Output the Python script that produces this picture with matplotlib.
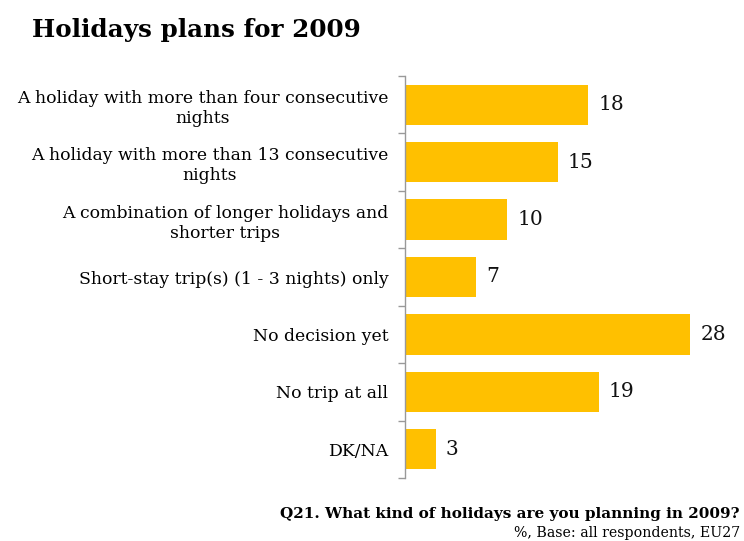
import matplotlib
matplotlib.use("Agg")
import matplotlib.pyplot as plt
import numpy as np

categories = [
    "A holiday with more than four consecutive\nnights",
    "A holiday with more than 13 consecutive\nnights",
    "A combination of longer holidays and\nshorter trips",
    "Short-stay trip(s) (1 - 3 nights) only",
    "No decision yet",
    "No trip at all",
    "DK/NA",
]
values = [18, 15, 10, 7, 28, 19, 3]

title = "Holidays plans for 2009"
question = "Q21. What kind of holidays are you planning in 2009?"
base = "%, Base: all respondents, EU27"

plt.rcParams['font.family'] = ['DejaVu Serif']
W, H = 744, 541
fig = plt.figure(figsize=(W/100, H/100), dpi=100)
ax = fig.add_axes([405/W, 63/H, 326/W, 402/H])

y = np.arange(len(categories))
ax.barh(y, values, height=0.7, color="#FFC000")
ax.set_ylim(len(categories) - 0.5, -0.5)
ax.set_xlim(0, 32)

for yi, v in zip(y, values):
    ax.text(v + 1.0, yi, str(v), va="center", ha="left", fontsize=14.5, color="#111111")

ax.set_yticks(y)
ax.set_yticklabels(categories, fontsize=12.4, ha="right", multialignment="center",
                   linespacing=1.25)
ax.tick_params(axis="y", which="major", length=0, pad=12)
ax.set_yticks(np.arange(-0.5, len(categories)), minor=True)
ax.tick_params(axis="y", which="minor", length=5, width=1, color="#999999", direction="out")
ax.set_xticks([])
for s in ["top", "right", "bottom"]:
    ax.spines[s].set_visible(False)
ax.spines["left"].set_color("#999999")
ax.spines["left"].set_linewidth(1)

fig.text(32/W, 1 - 30/H, title, fontsize=17.7, fontweight="bold", va="center", ha="left")
fig.text(740/W, 1 - 514/H, question, fontsize=11, fontweight="bold", va="center", ha="right")
fig.text(740/W, 1 - 533/H, base, fontsize=10.2, va="center", ha="right")

fig.savefig("out.png", dpi=100)
